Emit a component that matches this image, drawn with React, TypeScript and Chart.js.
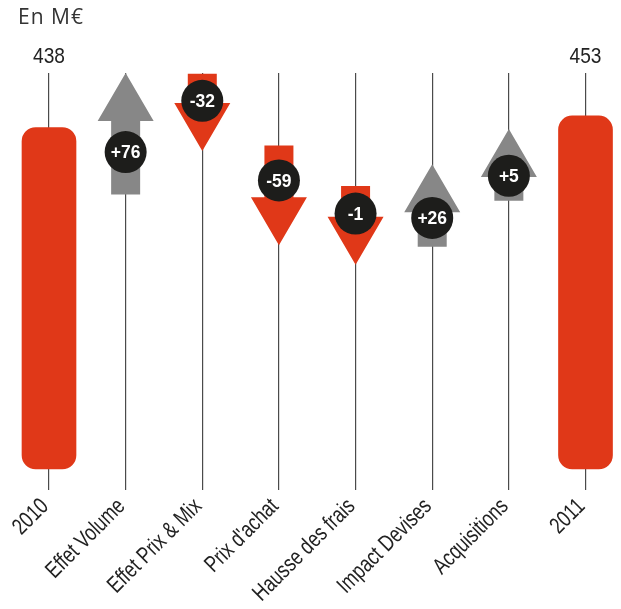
import React, { useEffect, useRef } from 'react';
import { Chart, registerables } from 'chart.js';

Chart.register(...registerables);

const categories = ['2010', 'Effet Volume', 'Effet Prix & Mix', "Prix d'achat", 'Hausse des frais', 'Impact Devises', 'Acquisitions', '2011'];
const totals = [438, null, null, null, null, null, null, 453];
const deltas = [null, 76, -32, -59, -1, 26, 5, null];
// arrow extents as drawn in the infographic (in the chart's value units)
const arrowFrom = [null, 352, 507, 415, 363, 285, 344, null];
const arrowTo = [null, 508, 408, 287, 262, 391, 436, null];
const unitLabel = 'En M€';
const yMin = -27;
const yMax = 508;

const RED = '#E03818';
const GRAY = '#878787';
const DARK = '#1D1D1B';
const SANS = '"Liberation Sans", Arial, sans-serif';

const fmt = (d: number) => (d > 0 ? '+' + d : String(d));

// draw horizontally condensed text (narrow-font look)
function condensedText(ctx: CanvasRenderingContext2D, text: string, x: number, y: number, sx: number, angle = 0) {
  ctx.save();
  ctx.translate(x, y);
  if (angle) ctx.rotate(angle);
  ctx.scale(sx, 1);
  ctx.fillText(text, 0, 0);
  ctx.restore();
}

const decorPlugin = {
  id: 'decor',
  afterDatasetsDraw(chart: any) {
    const ctx = chart.ctx as CanvasRenderingContext2D;
    const meta = chart.getDatasetMeta(0);
    const ys = chart.scales.y;
    const xs = chart.scales.x;
    const area = chart.chartArea;
    ctx.save();
    // unit label
    ctx.fillStyle = '#333';
    ctx.font = '21px "Open Sans", sans-serif';
    (ctx as any).letterSpacing = '1px';
    ctx.textAlign = 'left';
    ctx.textBaseline = 'alphabetic';
    ctx.fillText(unitLabel, 10, 16);
    (ctx as any).letterSpacing = '0px';
    // total labels
    ctx.font = '22px ' + SANS;
    ctx.fillStyle = '#222';
    ctx.textAlign = 'center';
    ctx.textBaseline = 'middle';
    totals.forEach((t, i) => {
      if (t == null) return;
      condensedText(ctx, String(t), meta.data[i].x, area.top - 16, 0.87);
    });
    // category labels (rotated)
    ctx.font = '23px ' + SANS;
    ctx.textAlign = 'right';
    ctx.textBaseline = 'middle';
    categories.forEach((c, i) => {
      const x = xs.getPixelForTick(i);
      condensedText(ctx, c, x - 4, area.bottom + 13, 0.78, -Math.PI / 4);
    });
    // arrows
    deltas.forEach((d, i) => {
      if (d == null) return;
      const x = meta.data[i].x;
      const y0 = ys.getPixelForValue(arrowFrom[i] as number);
      const y1 = ys.getPixelForValue(arrowTo[i] as number);
      const up = y1 < y0;
      const dir = up ? -1 : 1;
      const headLen = 48;
      const headHalf = 28;
      const tailHalf = 14.5;
      const yb = y1 - dir * headLen;
      ctx.fillStyle = up ? GRAY : RED;
      ctx.beginPath();
      ctx.moveTo(x - tailHalf, y0);
      ctx.lineTo(x - tailHalf, yb);
      ctx.lineTo(x - headHalf, yb);
      ctx.lineTo(x, y1);
      ctx.lineTo(x + headHalf, yb);
      ctx.lineTo(x + tailHalf, yb);
      ctx.lineTo(x + tailHalf, y0);
      ctx.closePath();
      ctx.fill();
      const cy = y0 + (y1 - y0) * 0.35;
      ctx.fillStyle = DARK;
      ctx.beginPath();
      ctx.arc(x, cy, 21, 0, Math.PI * 2);
      ctx.fill();
      ctx.fillStyle = '#fff';
      ctx.font = 'bold 19px ' + SANS;
      ctx.textAlign = 'center';
      ctx.textBaseline = 'middle';
      condensedText(ctx, fmt(d), x, cy + 1, 0.92);
    });
    ctx.restore();
  },
};

export default function App() {
  const ref = useRef<HTMLCanvasElement>(null);
  useEffect(() => {
    if (!ref.current) return;
    const data = categories.map((_, i) =>
      totals[i] != null ? [0, totals[i] as number] : [arrowFrom[i] as number, arrowTo[i] as number]
    );
    const chart = new Chart(ref.current, {
      type: 'bar',
      data: {
        labels: categories,
        datasets: [
          {
            data: data as any,
            backgroundColor: categories.map((_, i) => (totals[i] != null ? RED : 'rgba(0,0,0,0)')),
            borderRadius: 14,
            borderSkipped: false,
            barThickness: 54,
            clip: false as any,
          },
        ],
      },
      options: {
        animation: false,
        responsive: false,
        layout: { padding: { top: 65, left: 41, right: 27.5, bottom: 0 } },
        plugins: { legend: { display: false }, tooltip: { enabled: false } },
        scales: {
          x: {
            offset: false,
            grid: { offset: false, color: '#4a4a4a', lineWidth: 1.2, drawTicks: false },
            border: { display: false },
            ticks: { display: false, autoSkip: false },
            afterFit: (s: any) => {
              s.height = 119;
              s.paddingLeft = 0;
              s.paddingRight = 0;
            },
          },
          y: { display: false, min: yMin, max: yMax },
        },
      },
      plugins: [decorPlugin],
    });
    return () => chart.destroy();
  }, []);
  return (
    <div style={{ height: 593, overflow: 'visible' }}>
      <canvas ref={ref} width={605} height={601} style={{ display: 'block' }} />
    </div>
  );
}
